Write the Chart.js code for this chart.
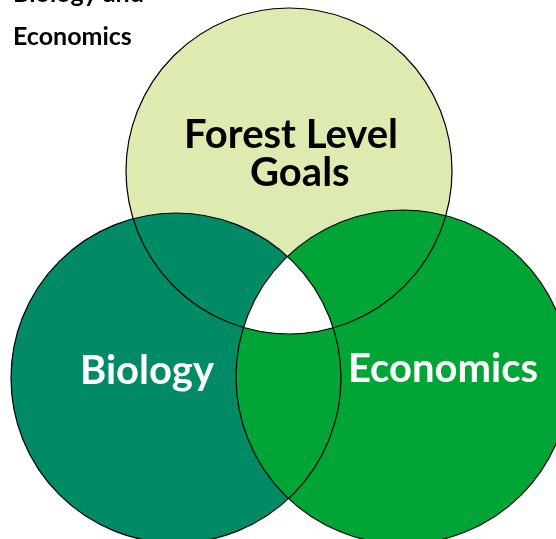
<!DOCTYPE html>
<html><head><meta charset="utf-8">
<script src="https://cdn.jsdelivr.net/npm/chart.js@4.4.1/dist/chart.umd.min.js"></script>
<style>html,body{margin:0;padding:0;background:#fff;overflow:hidden}#wrap{width:556px;height:539px;position:relative}</style>
</head><body><div id="wrap"><canvas id="c"></canvas></div>
<script>
// Venn sets (circle centres / radii in chart units)
const setNames = ['Forest Level Goals', 'Biology', 'Economics'];
const centerX = [289, 176, 403];
const centerY = [171, 378, 377];
const radii = [163, 165, 167];
const setLabelLines = [['Forest Level', ' Goals'], ['Biology'], ['Economics']];
const titleLines = ['Biology and', 'Economics'];

const fillColors = ['rgb(221,234,176)', 'rgb(0,138,102)', 'rgb(0,165,53)'];
const labelColors = ['#000', '#fff', '#fff'];
const labelAnchors = [[291, 148], [147, 384], [443, 382]];
const labelLineGap = 38;

const vennPlugin = {
  id: 'venn',
  afterDatasetsDraw(chart) {
    const ctx = chart.ctx;
    const pts = chart.getDatasetMeta(0).data;
    const xs = chart.scales.x, ys = chart.scales.y;
    // triple intersection -> white
    ctx.save();
    pts.forEach(p => { ctx.beginPath(); ctx.arc(p.x, p.y, p.options.radius, 0, Math.PI * 2); ctx.clip(); });
    ctx.fillStyle = '#fff';
    ctx.fillRect(0, 0, chart.width, chart.height);
    ctx.restore();
    // outlines
    ctx.save();
    ctx.strokeStyle = '#000';
    ctx.lineWidth = 1.2;
    pts.forEach(p => { ctx.beginPath(); ctx.arc(p.x, p.y, p.options.radius, 0, Math.PI * 2); ctx.stroke(); });
    ctx.restore();
    // set labels
    ctx.save();
    ctx.textAlign = 'center';
    ctx.textBaseline = 'alphabetic';
    ctx.font = 'bold 40px Lato';
    setLabelLines.forEach((lines, i) => {
      ctx.fillStyle = labelColors[i];
      lines.forEach((t, j) => {
        const dx = j > 0 ? 4 : 0;
        ctx.fillText(t, xs.getPixelForValue(labelAnchors[i][0] + dx), ys.getPixelForValue(labelAnchors[i][1] + j * labelLineGap));
      });
    });
    // partially visible title
    ctx.textAlign = 'left';
    ctx.fillStyle = '#000';
    ctx.font = 'bold 25px Lato';
    titleLines.forEach((t, j) => ctx.fillText(t, 13, 2 + j * 43));
    ctx.restore();
  }
};

new Chart(document.getElementById('c'), {
  type: 'bubble',
  data: {
    labels: setNames,
    datasets: [{
      label: 'Sets',
      data: setNames.map((n, i) => ({ x: centerX[i], y: centerY[i], r: radii[i] })),
      backgroundColor: fillColors,
      borderWidth: 0,
      hoverRadius: 0,
      clip: false
    }]
  },
  options: {
    responsive: true,
    maintainAspectRatio: false,
    animation: false,
    events: [],
    layout: { padding: 0, autoPadding: false },
    plugins: { legend: { display: false }, tooltip: { enabled: false }, title: { display: false } },
    scales: {
      x: { type: 'linear', min: 0, max: 556, display: false },
      y: { type: 'linear', min: 0, max: 539, reverse: true, display: false }
    }
  },
  plugins: [vennPlugin]
});
</script>
</body></html>
